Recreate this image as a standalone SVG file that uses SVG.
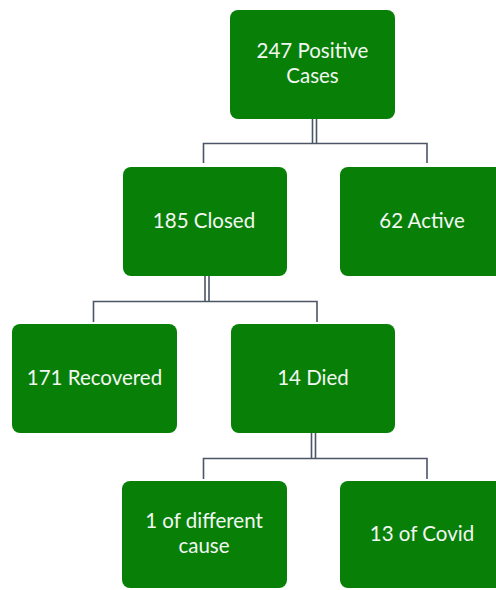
<svg xmlns="http://www.w3.org/2000/svg" width="496" height="590" viewBox="0 0 496 590">
<style>
.box{fill:#088008;}
.lbl{font-family:Lato,"Open Sans","Liberation Sans",sans-serif;font-size:20.5px;fill:#f2f7f2;text-anchor:middle;}
.con{stroke:#4b5566;stroke-width:1.6;fill:none;}
</style>
<rect width="496" height="590" fill="#ffffff"/>
<g id="connectors">
<path class="con" d="M312.5 119 V143 M316.5 119 V143 M203.5 163 V143.5 H427 V163"/>
<path class="con" d="M205 276 V301 M209 276 V301 M93.5 322 V301.5 H317 V322"/>
<path class="con" d="M311.5 433 V458 M315.5 433 V458 M203.5 479 V458.5 H427 V479"/>
</g>
<g id="n-positive"><rect class="box" x="230" y="10" width="165" height="109" rx="8"/><text class="lbl" x="312.5" y="58">247 Positive</text><text class="lbl" x="312.5" y="83">Cases</text></g>
<g id="n-closed"><rect class="box" x="123" y="167" width="164" height="109" rx="8"/><text class="lbl" x="204" y="228">185 Closed</text></g>
<g id="n-active"><rect class="box" x="340" y="167" width="164" height="109" rx="8"/><text class="lbl" x="422" y="228">62 Active</text></g>
<g id="n-recovered"><rect class="box" x="12" y="324" width="165" height="109" rx="8"/><text class="lbl" x="94.5" y="385">171 Recovered</text></g>
<g id="n-died"><rect class="box" x="231" y="324" width="164" height="109" rx="8"/><text class="lbl" x="313" y="385">14 Died</text></g>
<g id="n-different"><rect class="box" x="122" y="481" width="165" height="107" rx="8"/><text class="lbl" x="204" y="528">1 of different</text><text class="lbl" x="204" y="553">cause</text></g>
<g id="n-covid"><rect class="box" x="340" y="481" width="164" height="107" rx="8"/><text class="lbl" x="422" y="541">13 of Covid</text></g>
</svg>
